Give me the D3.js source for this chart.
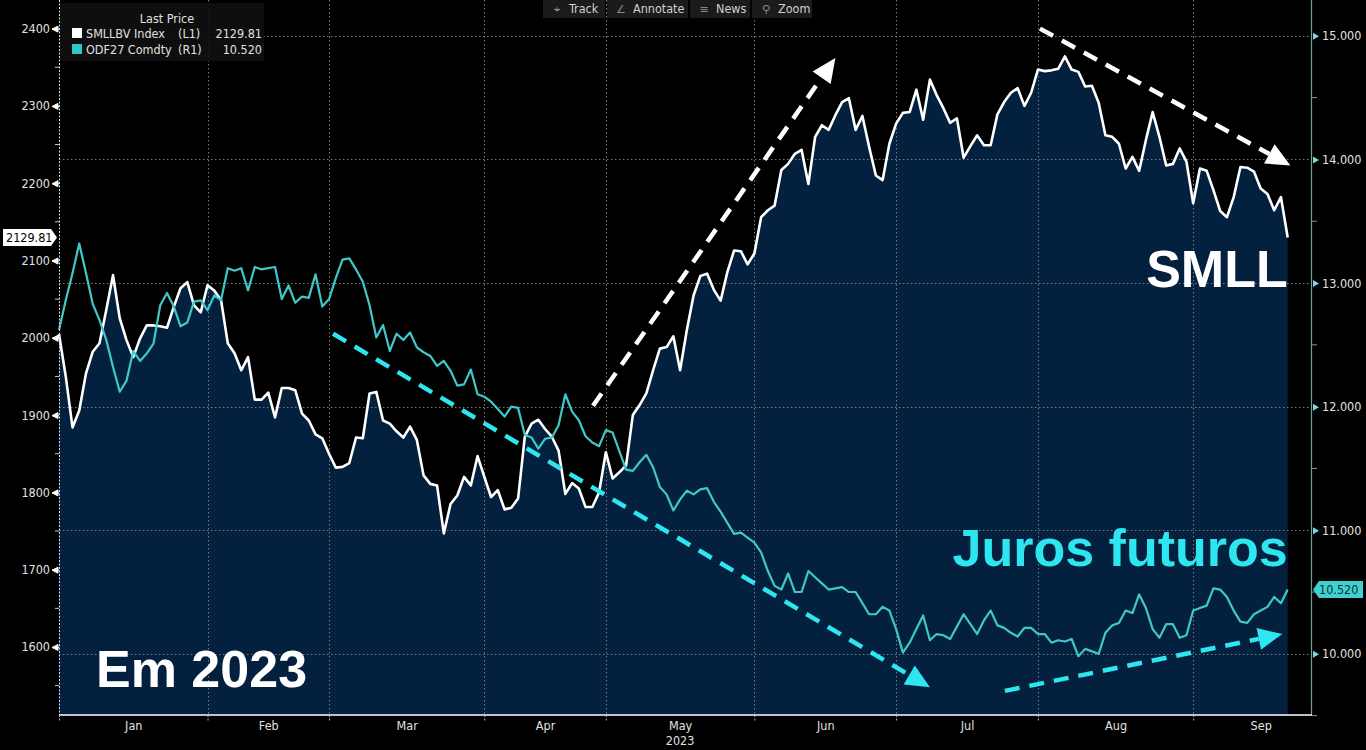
<!DOCTYPE html>
<html><head><meta charset="utf-8">
<script src="https://cdn.jsdelivr.net/npm/d3@7"></script>
<style>
html,body{margin:0;padding:0;background:#000;overflow:hidden}
svg{display:block}
</style></head><body>
<svg id="c" width="1366" height="750"></svg>
<script>
// ---------- data ----------
const months = ["Jan","Feb","Mar","Apr","May","Jun","Jul","Aug","Sep"];
const monthStart = [0,22,40,63,81,103,124,145,168];          // trading-day index of month start
const monthLabelPos = [11,31,51.5,72,92,113.5,134.5,156.5,178];
const leftTicks = [1600,1700,1800,1900,2000,2100,2200,2300,2400];
const leftMinor = [1550,1650,1750,1850,1950,2050,2150,2250,2350];
const rightTicks = [10,11,12,13,14,15];
const rightMinor = [9.5,10.5,11.5,12.5,13.5,14.5];
const seriesNames = ["SMLLBV Index","ODF27 Comdty"];
const seriesAxis = ["(L1)","(R1)"];
const lastLabels = ["2129.81","10.520"];

const smll = [2005,1950,1884,1906,1954,1982,1993,2036,2081,2025,
1997,1975,1999,2016,2016,2015,2013,2040,2064,2072,
2042,2033,2068,2061,2049,1993,1980,1958,1975,1920,
1920,1929,1897,1935,1935,1932,1902,1893,1875,1870,
1850,1832,1833,1838,1871,1870,1928,1930,1893,1889,
1879,1871,1885,1868,1822,1811,1809,1747,1785,1796,
1820,1809,1847,1820,1794,1803,1778,1780,1792,1872,
1889,1894,1882,1872,1854,1798,1812,1805,1781,1781,
1800,1852,1818,1826,1835,1900,1913,1928,1958,1986,
1988,2002,1958,2010,2055,2080,2083,2062,2048,2085,
2113,2112,2095,2109,2156,2165,2171,2217,2225,2238,
2243,2199,2260,2275,2269,2288,2305,2310,2269,2287,
2247,2210,2204,2251,2277,2291,2292,2321,2282,2334,
2314,2297,2278,2284,2233,2248,2262,2249,2249,2289,
2305,2317,2323,2300,2317,2347,2345,2346,2348,2364,
2347,2344,2325,2326,2304,2262,2260,2251,2219,2234,
2216,2256,2292,2260,2223,2225,2245,2228,2174,2219,
2216,2191,2164,2156,2182,2221,2220,2215,2193,2186,
2165,2182,2129.81];

const odf27 = [12.62,12.86,13.08,13.32,13.08,12.83,12.70,12.54,12.32,12.12,
12.21,12.45,12.37,12.43,12.51,12.82,12.92,12.81,12.65,12.68,
12.85,12.86,12.78,12.90,12.86,13.12,13.10,13.12,12.94,13.13,
13.11,13.12,13.13,12.87,12.98,12.84,12.89,12.88,13.07,12.81,
12.87,13.04,13.19,13.20,13.11,13.01,12.82,12.56,12.66,12.45,
12.59,12.54,12.60,12.48,12.44,12.41,12.33,12.37,12.29,12.17,
12.18,12.30,12.10,12.08,12.04,11.98,11.92,12.00,11.99,11.77,
11.75,11.66,11.74,11.75,11.85,12.10,11.96,11.89,11.76,11.71,
11.68,11.81,11.79,11.64,11.49,11.48,11.55,11.61,11.51,11.35,
11.29,11.16,11.25,11.32,11.29,11.33,11.34,11.23,11.15,11.06,
10.97,10.98,10.94,10.90,10.82,10.67,10.55,10.52,10.65,10.50,
10.50,10.67,10.62,10.57,10.52,10.53,10.54,10.50,10.50,10.41,
10.32,10.32,10.38,10.35,10.20,10.01,10.09,10.20,10.31,10.11,
10.16,10.15,10.12,10.22,10.32,10.24,10.16,10.27,10.35,10.23,
10.21,10.17,10.14,10.21,10.21,10.16,10.16,10.09,10.11,10.10,
10.12,9.98,10.04,10.02,10.00,10.17,10.23,10.25,10.35,10.33,
10.48,10.37,10.20,10.13,10.24,10.24,10.13,10.15,10.35,10.37,
10.39,10.53,10.52,10.46,10.35,10.26,10.25,10.32,10.35,10.38,
10.46,10.41,10.52];

// annotation arrows in data space: [i1, v1, i2, v2]
const whiteArrows = [[79.1,1912,115.0,2362],[145.3,2400,182.4,2223]];
const cyanArrows  = [[40.6,12.59,129.0,9.73],[140.1,9.70,181.2,10.16]];

// ---------- layout ----------
const plotLeft=59, plotRight=1312, plotBottom=715, plotTop=0;
const svg=d3.select("#c");
const x=d3.scaleLinear().domain([0,185.6]).range([plotLeft,plotRight]);
const yL=d3.scaleLinear().domain([1512,2437]).range([plotBottom,plotTop]);
const yR=d3.scaleLinear().domain([9.505,15.29]).range([plotBottom,plotTop]);
const uiFont='"DejaVu Sans Condensed","Liberation Sans Narrow","DejaVu Sans",sans-serif';
const bigFont='"Liberation Sans",Arial,sans-serif';
const NAVY="#03213f", TEAL="#3fc8c8", CYAN="#2ee6ef";

svg.append("rect").attr("width",1366).attr("height",750).attr("fill","#000");

// area under SMLL
svg.append("path").datum(smll)
  .attr("d",d3.area().x((d,i)=>x(i)).y0(plotBottom).y1(d=>yL(d)))
  .attr("fill",NAVY);

// gridlines
const grid=svg.append("g").attr("stroke","#7a7a7a").attr("stroke-width",1).attr("stroke-dasharray","1.5,2.5");
grid.selectAll("line.h").data(rightTicks).join("line")
  .attr("x1",plotLeft).attr("x2",plotRight).attr("y1",d=>Math.round(yR(d))+0.5).attr("y2",d=>Math.round(yR(d))+0.5);
grid.selectAll("line.v").data(monthStart.slice(1)).join("line")
  .attr("x1",d=>Math.round(x(d))+0.5).attr("x2",d=>Math.round(x(d))+0.5).attr("y1",plotTop).attr("y2",plotBottom);

// lines
svg.append("path").datum(smll)
  .attr("d",d3.line().x((d,i)=>x(i)).y(d=>yL(d)))
  .attr("fill","none").attr("stroke","#fff").attr("stroke-width",2.6).attr("stroke-linejoin","round");
svg.append("path").datum(odf27)
  .attr("d",d3.line().x((d,i)=>x(i)).y(d=>yR(d)))
  .attr("fill","none").attr("stroke",TEAL).attr("stroke-width",2.2).attr("stroke-linejoin","round");

// left axis
const gL=svg.append("g").attr("transform",`translate(${plotLeft},0)`)
  .call(d3.axisLeft(yL).tickValues(leftTicks).tickSize(0).tickPadding(9).tickFormat(d3.format("d")));
gL.select(".domain").remove();
gL.selectAll("text").attr("fill","#e0e0e0").style("font-family",uiFont).style("font-size","12.5px");
gL.selectAll(".tick").append("path").attr("d","M-1,-3L-7,0L-1,3Z M-7,0H0").attr("fill","#fff").attr("stroke","#fff").attr("stroke-width",1);
svg.append("g").selectAll("line").data(leftMinor).join("line")
  .attr("x1",plotLeft-4).attr("x2",plotLeft).attr("y1",d=>yL(d)).attr("y2",d=>yL(d)).attr("stroke","#ccc");
svg.append("line").attr("x1",plotLeft+0.5).attr("x2",plotLeft+0.5).attr("y1",0).attr("y2",plotBottom)
  .attr("stroke","#ddd").attr("stroke-width",1).attr("stroke-dasharray","2,1.5");

// right axis
const gR=svg.append("g").attr("transform",`translate(${plotRight},0)`)
  .call(d3.axisRight(yR).tickValues(rightTicks).tickSize(0).tickPadding(10).tickFormat(d3.format(".3f")));
gR.select(".domain").remove();
gR.selectAll("text").attr("fill","#e0e0e0").style("font-family",uiFont).style("font-size","12.5px");
gR.selectAll(".tick").append("path").attr("d","M1,-3.5L7,0L1,3.5Z").attr("fill","#7fd6d6");
svg.append("g").selectAll("line").data(rightMinor).join("line")
  .attr("x1",plotRight).attr("x2",plotRight+5).attr("y1",d=>yR(d)).attr("y2",d=>yR(d)).attr("stroke","#7a9a9a");
svg.append("line").attr("x1",plotRight-0.5).attr("x2",plotRight-0.5).attr("y1",0).attr("y2",plotBottom)
  .attr("stroke","#7a9e9e").attr("stroke-width",1.2);

// bottom axis
const gB=svg.append("g").attr("transform",`translate(0,${plotBottom})`)
  .call(d3.axisBottom(x).tickValues(monthStart).tickSize(7).tickFormat(""));
gB.select(".domain").attr("stroke","#fff").attr("stroke-width",1.5).attr("d",`M${plotLeft},0H${plotRight}`);
gB.selectAll(".tick line").attr("stroke","#bbb").attr("stroke-dasharray","2,1.5");
const gB2=svg.append("g").attr("transform",`translate(0,${plotBottom})`)
  .call(d3.axisBottom(x).tickValues(monthLabelPos).tickSize(0).tickPadding(6).tickFormat((d,i)=>months[i]));
gB2.select(".domain").remove();
gB2.selectAll("text").attr("fill","#e0e0e0").style("font-family",uiFont).style("font-size","12.5px");
svg.append("text").attr("x",x(monthLabelPos[4])).attr("y",745).attr("text-anchor","middle")
  .attr("fill","#e0e0e0").style("font-family",uiFont).style("font-size","12.5px").text("2023");

// arrows
function arrow(a,sy,color){
  const x1=x(a[0]),y1=sy(a[1]),x2=x(a[2]),y2=sy(a[3]);
  const dx=x2-x1,dy=y2-y1,L=Math.hypot(dx,dy),ux=dx/L,uy=dy/L;
  const hl=24,hw=11,bx=x2-ux*hl,by=y2-uy*hl;
  svg.append("line").attr("x1",x1).attr("y1",y1).attr("x2",bx).attr("y2",by)
    .attr("stroke",color).attr("stroke-width",4.5).attr("stroke-dasharray","15,10");
  svg.append("path").attr("d",`M${x2},${y2}L${bx-uy*hw},${by+ux*hw}L${bx+uy*hw},${by-ux*hw}Z`).attr("fill",color);
}
whiteArrows.forEach(a=>arrow(a,yL,"#fff"));
cyanArrows.forEach(a=>arrow(a,yR,CYAN));

// big labels
svg.append("text").attr("x",x(182)).attr("y",287).attr("text-anchor","end")
  .attr("fill","#fff").style("font-family",bigFont).style("font-weight","bold").style("font-size","52px").text("SMLL");
svg.append("text").attr("x",x(182)).attr("y",566).attr("text-anchor","end")
  .attr("fill",CYAN).style("font-family",bigFont).style("font-weight","bold").style("font-size","52px").text("Juros futuros");
svg.append("text").attr("x",96).attr("y",687)
  .attr("fill","#fff").style("font-family",bigFont).style("font-weight","bold").style("font-size","52px").text("Em 2023");

// last price tags
{
  const yv=yL(smll[smll.length-1]);
  svg.append("path").attr("d",`M3,${yv-8.5}H51L57,${yv}L51,${yv+8.5}H3Z`).attr("fill","#fff");
  svg.append("text").attr("x",6).attr("y",yv+4.5).attr("fill","#000").style("font-family",uiFont).style("font-size","12.5px").text(lastLabels[0]);
  const yr=yR(odf27[odf27.length-1]);
  svg.append("path").attr("d",`M${plotRight+1},${yr}L${plotRight+7},${yr-8.5}H1363V${yr+8.5}H${plotRight+7}Z`).attr("fill","#3fd0d0");
  svg.append("text").attr("x",1319).attr("y",yr+4.5).attr("fill","#103030").style("font-family",uiFont).style("font-size","12.5px").text(lastLabels[1]);
}

// legend
{
  const lg=svg.append("g");
  lg.append("rect").attr("x",60).attr("y",3).attr("width",204).attr("height",58).attr("fill","#101010").attr("opacity",0.9);
  lg.append("text").attr("x",167).attr("y",23).attr("text-anchor","middle").attr("fill","#e0e0e0")
    .style("font-family",uiFont).style("font-size","12.5px").text("Last Price");
  const cols=["#fff","#2ec8c8"];
  [0,1].forEach(k=>{
    const yy=33+k*16;
    lg.append("rect").attr("x",72).attr("y",yy-5).attr("width",10).attr("height",10).attr("fill",cols[k]);
    lg.append("text").attr("x",86).attr("y",yy+4.5).attr("fill","#e0e0e0").style("font-family",uiFont).style("font-size","12.5px").text(seriesNames[k]);
    lg.append("text").attr("x",178).attr("y",yy+4.5).attr("fill","#e0e0e0").style("font-family",uiFont).style("font-size","12.5px").text(seriesAxis[k]);
    lg.append("text").attr("x",262).attr("y",yy+4.5).attr("text-anchor","end").attr("fill","#e0e0e0").style("font-family",uiFont).style("font-size","12.5px").text(lastLabels[k]);
  });
}

// toolbar
{
  const tb=svg.append("g");
  const items=[["\u2316","Track",543,62],["\u2220","Annotate",607,81],["\u2261","News",690,60],["\u26B2","Zoom",752,60]];
  items.forEach(([ic,t,x0,w])=>{
    tb.append("rect").attr("x",x0).attr("y",0).attr("width",w).attr("height",18).attr("fill","#1b1b1b");
    tb.append("text").attr("x",x0+14).attr("y",13).attr("text-anchor","middle").attr("fill","#8a8a8a").style("font-family","DejaVu Sans").style("font-size","11px").text(ic);
    tb.append("text").attr("x",x0+26).attr("y",13).attr("fill","#d0d0d0").style("font-family",uiFont).style("font-size","12.5px").text(t);
  });
}
</script>
</body></html>
